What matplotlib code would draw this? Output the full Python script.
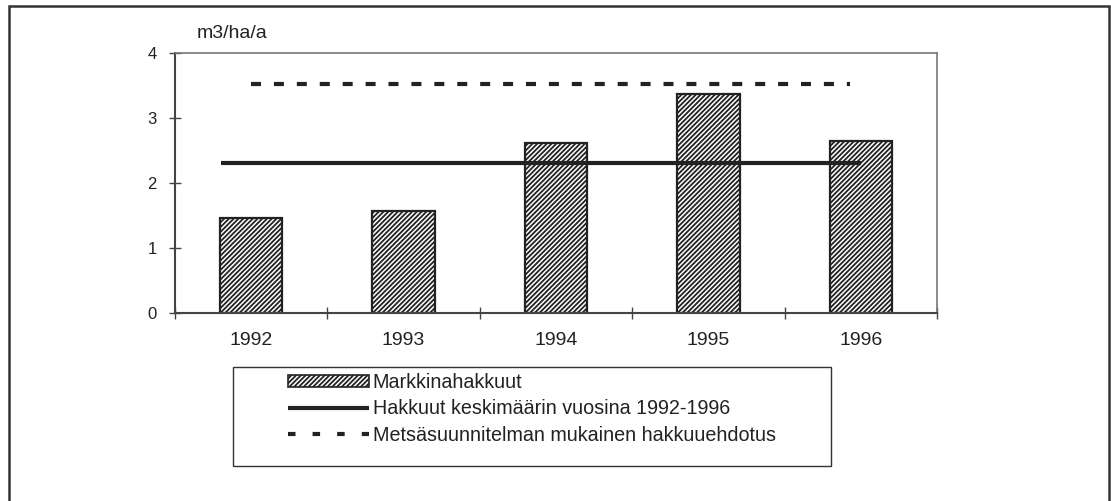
import matplotlib
matplotlib.use("Agg")
import matplotlib.pyplot as plt
from matplotlib.patches import Rectangle, Patch
from matplotlib.lines import Line2D
import numpy as np

plt.rcParams['font.family'] = ['Liberation Sans', 'DejaVu Sans']
plt.rcParams['hatch.linewidth'] = 1.3
plt.rcParams['hatch.color'] = '#2a2a2a'
plt.rcParams['text.color'] = '#222222'

years = ['1992', '1993', '1994', '1995', '1996']
market_fellings = [1.46, 1.57, 2.62, 3.37, 2.65]
average_value = 2.31
average_span = [-0.2, 4.0]
plan_value = 3.52
plan_span = [0.0, 3.93]
y_ticks = [0, 1, 2, 3, 4]
unit_label = 'm3/ha/a'
legend_labels = ['Markkinahakkuut',
                 'Hakkuut keskimäärin vuosina 1992-1996',
                 'Metsäsuunnitelman mukainen hakkuuehdotus']

fig = plt.figure(figsize=(11.11, 5.01), dpi=100)
W, H = 1111, 501

# outer frame
fig.patches.append(Rectangle((9 / W, -0.1), (1109 - 9) / W, 1.1 - 6 / H,
                             transform=fig.transFigure, fill=False,
                             edgecolor='#333333', linewidth=1.8, zorder=0))

ax = fig.add_axes([175 / W, 1 - 313 / H, (937 - 175) / W, (313 - 53) / H])
x = np.arange(len(years))
ax.bar(x, market_fellings, width=0.41, facecolor='white', edgecolor='#222222',
       hatch='///////', linewidth=1.6, zorder=2)
ax.plot(average_span, [average_value, average_value], color='#222222',
        linewidth=3, solid_capstyle='butt', zorder=3)
ax.plot(plan_span, [plan_value, plan_value], color='#222222', linewidth=3,
        dashes=(2.4, 3.1), dash_capstyle='butt', zorder=3)

ax.set_xlim(-0.5, len(years) - 0.5)
ax.set_ylim(0, 4)
ax.set_yticks(y_ticks)
ax.set_yticklabels([str(v) for v in y_ticks], fontsize=12, color='#222222')
ax.set_xticks(np.arange(len(years) + 1) - 0.5)
ax.set_xticklabels([])
ax.set_xticks(x, minor=True)
ax.set_xticklabels(years, minor=True, fontsize=14, color='#222222')
ax.tick_params(axis='x', which='minor', length=0, pad=14)
ax.tick_params(axis='x', which='major', direction='inout', length=8, width=1, color='#444444')
ax.tick_params(axis='y', direction='inout', length=8, width=1, color='#444444', pad=9)
for s in ['left', 'bottom']:
    ax.spines[s].set_color('#444444')
    ax.spines[s].set_linewidth(1.5)
for s in ['top', 'right']:
    ax.spines[s].set_color('#777777')
    ax.spines[s].set_linewidth(1.2)

fig.text(197 / W, 1 - 33 / H, unit_label, fontsize=14, va='center', ha='left')

# legend box
fig.patches.append(Rectangle((233 / W, 1 - 466 / H), (831 - 233) / W, (466 - 367) / H,
                             transform=fig.transFigure, fill=False,
                             edgecolor='#333333', linewidth=1.0, zorder=5))
handles = [Patch(facecolor='white', edgecolor='#222222', hatch='///////', linewidth=1.2),
           Line2D([0], [0], color='#222222', linewidth=3, solid_capstyle='butt'),
           Line2D([0], [0], color='#222222', linewidth=3, dashes=(1.8, 4.1), dash_capstyle='butt')]
leg = fig.legend(handles, legend_labels, loc='upper left',
                 bbox_to_anchor=(280 / W, 1 - 365 / H), frameon=False,
                 fontsize=14.2, handlelength=4.1, handleheight=0.6,
                 handletextpad=0.2, labelspacing=0.38, borderaxespad=0)

fig.savefig('out.png', dpi=100)
